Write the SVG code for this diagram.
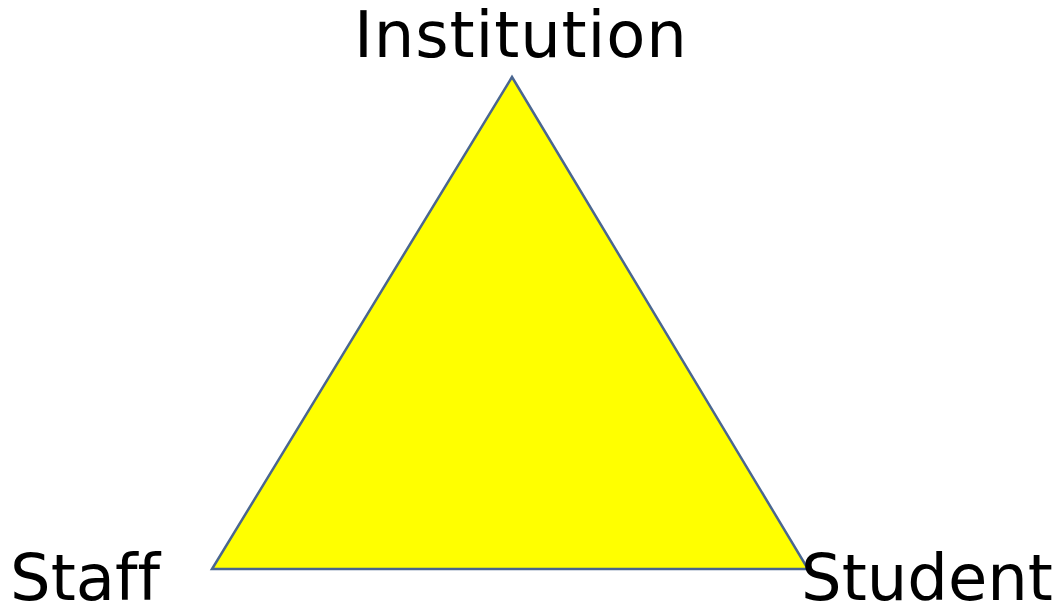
<svg xmlns="http://www.w3.org/2000/svg" width="1061" height="606" viewBox="0 0 1061 606">
<style>
.lbl{font-family:"DejaVu Sans","Verdana",sans-serif;font-size:64px;fill:#000;font-variant-ligatures:none;font-feature-settings:"liga" 0}
</style>
<rect width="1061" height="606" fill="#fff"/>
<g id="triangle">
<polygon points="512,77 212,569 808,569" fill="#ffff00" stroke="#4a6690" stroke-width="2.5" stroke-linejoin="miter"/>
</g>
<g id="institution"><text class="lbl" x="354" y="57" letter-spacing="0.9">Institution</text></g>
<g id="staff"><text class="lbl" x="10" y="600">Staff</text></g>
<g id="student"><text class="lbl" x="801" y="600">Student</text></g>
<g id="connectors"></g>
</svg>
